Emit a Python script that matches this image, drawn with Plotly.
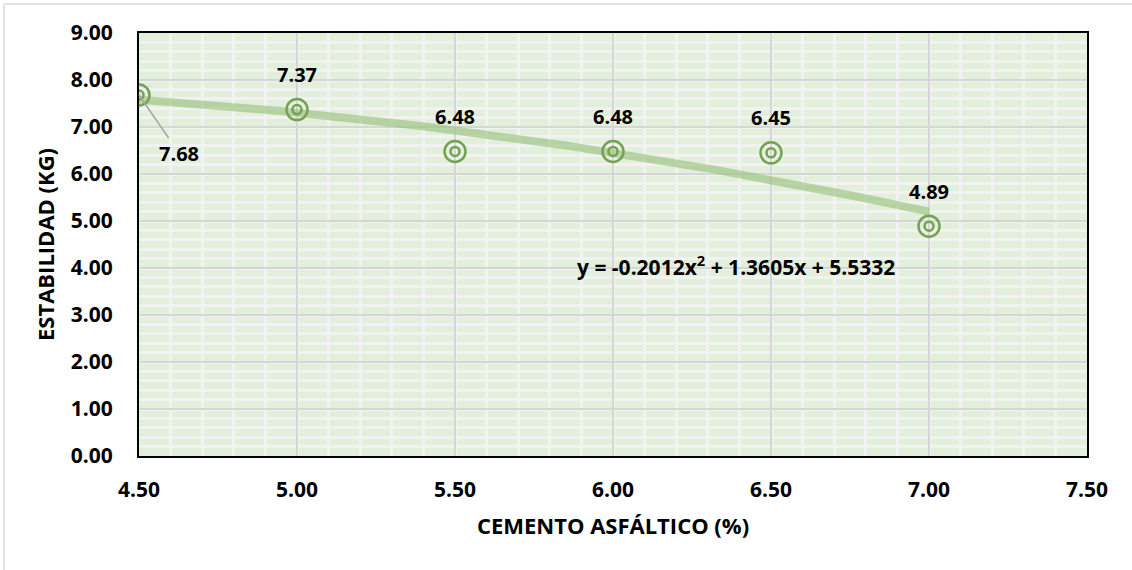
import numpy as np
import plotly.graph_objects as go

# Marshall stability vs. asphalt cement content
cemento = [4.50, 5.00, 5.50, 6.00, 6.50, 7.00]
estabilidad = [7.68, 7.37, 6.48, 6.48, 6.45, 4.89]

# second-order polynomial trendline: y = a*x^2 + b*x + c
coef_a, coef_b, coef_c = -0.2012, 1.3605, 5.5332

x_tick_vals = [4.5, 5.0, 5.5, 6.0, 6.5, 7.0, 7.5]
y_tick_vals = [0, 1, 2, 3, 4, 5, 6, 7, 8, 9]

FONT = "Open Sans"
GREEN = "#73A352"

x_fit = np.linspace(min(cemento), max(cemento), 200)
y_fit = coef_a * x_fit ** 2 + coef_b * x_fit + coef_c

fig = go.Figure()

fig.add_trace(go.Scatter(
    x=x_fit, y=y_fit, mode="lines",
    line=dict(color="rgba(150,190,120,0.6)", width=8),
    hoverinfo="skip", showlegend=False,
))

# double-ring markers
fig.add_trace(go.Scatter(
    x=cemento, y=estabilidad, mode="markers",
    marker=dict(symbol="circle-open", size=21, color=GREEN, line=dict(width=2.5, color=GREEN)),
    showlegend=False,
))
fig.add_trace(go.Scatter(
    x=cemento, y=estabilidad, mode="markers",
    marker=dict(symbol="circle-open", size=9, color=GREEN, line=dict(width=2.5, color=GREEN)),
    showlegend=False, hoverinfo="skip",
))

label_font = dict(family=FONT, size=20, color="black", weight="bold")

annotations = []
for i, (xv, yv) in enumerate(zip(cemento, estabilidad)):
    if i == 0:
        annotations.append(dict(
            x=xv, y=yv, text=f"{yv:.2f}", showarrow=True, arrowhead=0,
            arrowwidth=1.5, arrowcolor="#A6A6A6", ax=40, ay=58,
            font=label_font,
        ))
    else:
        annotations.append(dict(
            x=xv, y=yv, text=f"{yv:.2f}", showarrow=False, yshift=35,
            font=label_font,
        ))

eq_text = f"y = {coef_a:.4f}x<sup>2</sup> + {coef_b:.4f}x + {coef_c:.4f}"
annotations.append(dict(
    x=6.39, y=4.05, text=eq_text, showarrow=False,
    font=dict(family=FONT, size=21, color="black", weight="bold"),
))

fig.update_layout(
    width=1132, height=570,
    margin=dict(l=139, r=45, t=33, b=114),
    paper_bgcolor="white",
    plot_bgcolor="#E2EFDA",
    annotations=annotations,
    shapes=[
        dict(type="line", xref="paper", yref="paper", x0=-0.1424, x1=1.1, y0=1.0686, y1=1.0686,
             line=dict(color="#D9D9D9", width=1.5)),
        dict(type="line", xref="paper", yref="paper", x0=-0.1424, x1=-0.1424, y0=-0.3, y1=1.0686,
             line=dict(color="#D9D9D9", width=1.5)),
    ],
)

tick_font = dict(family=FONT, size=21, color="black", weight="bold")
title_font = dict(family=FONT, size=22, color="black", weight="bold")

fig.update_xaxes(
    range=[4.5, 7.5], tickvals=x_tick_vals,
    ticktext=[f"{v:.2f}" for v in x_tick_vals],
    tickfont=tick_font,
    ticks="", ticklabelstandoff=14,
    showgrid=True, gridcolor="#D6D6D6", gridwidth=2,
    minor=dict(dtick=0.1, showgrid=True, gridcolor="#F2F2F2", gridwidth=2.5),
    showline=True, mirror=True, linecolor="black", linewidth=2,
    zeroline=False,
    title=dict(text="CEMENTO ASFÁLTICO (%)", standoff=16, font=title_font),
)
fig.update_yaxes(
    range=[0, 9], tickvals=y_tick_vals,
    ticktext=[f"{v:.2f}" for v in y_tick_vals],
    tickfont=tick_font,
    ticks="", ticklabelstandoff=20,
    showgrid=True, gridcolor="#D6D6D6", gridwidth=2,
    minor=dict(dtick=0.2, showgrid=True, gridcolor="#F2F2F2", gridwidth=2.5),
    showline=True, mirror=True, linecolor="black", linewidth=2,
    zeroline=False,
    title=dict(text="ESTABILIDAD (KG)", standoff=10, font=title_font),
)

fig.write_html("out.html")
